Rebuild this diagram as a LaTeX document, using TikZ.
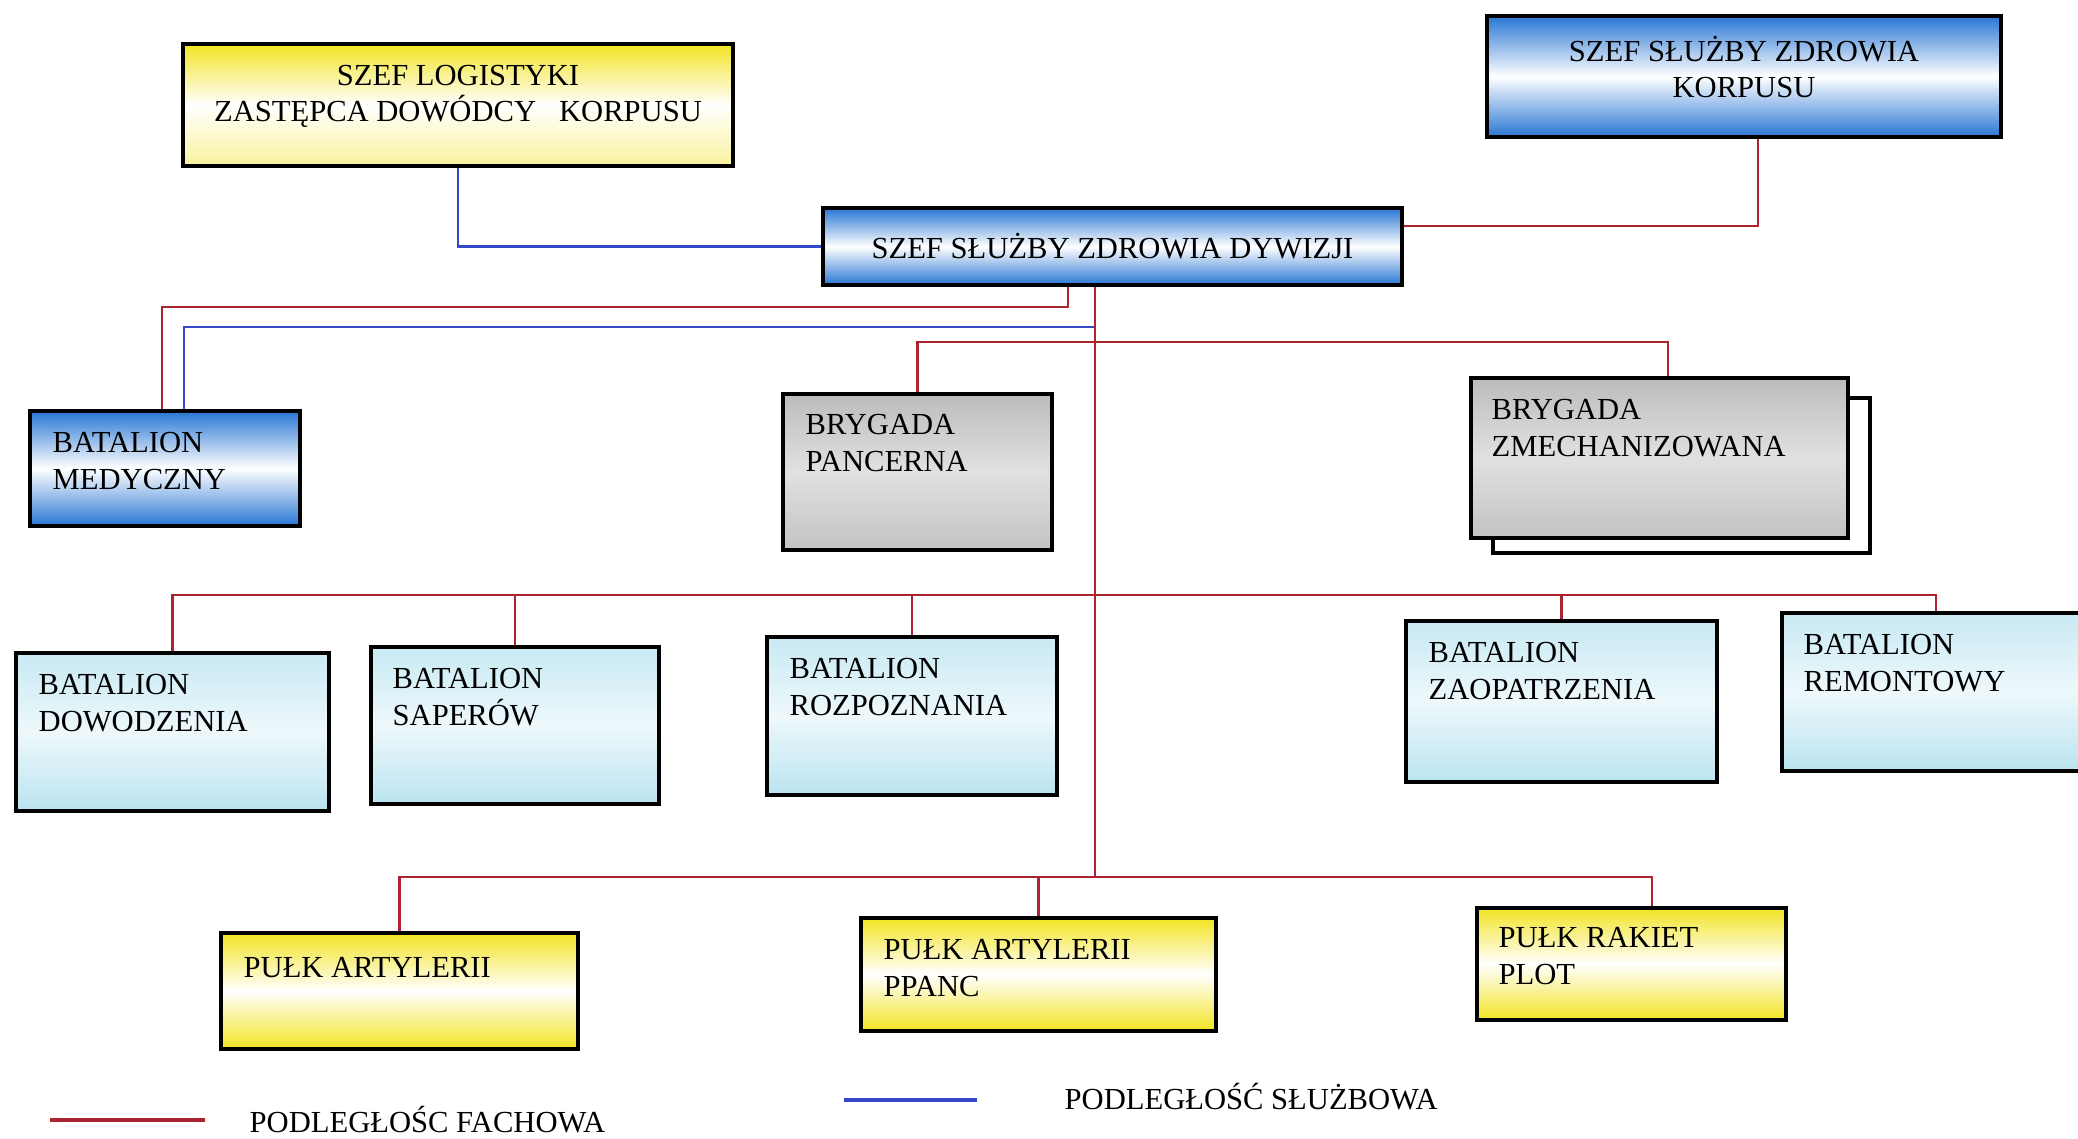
\documentclass[tikz,border=0pt]{standalone}
\usepackage{fontspec}
\setmainfont{Liberation Serif}
\usetikzlibrary{positioning}
\definecolor{myBlue}{RGB}{40,118,212}
\definecolor{myYellow}{RGB}{242,228,35}
\definecolor{myCyan}{RGB}{186,228,240}
\definecolor{myGrey}{RGB}{188,188,188}
\definecolor{lineRed}{RGB}{172,36,48}
\definecolor{lineBlue}{RGB}{52,72,200}
\newcommand{\orgfont}{\fontsize{8.7}{10.3}\selectfont}

\tikzset{
  box/.style={draw=black, line width=1.1pt, inner sep=0pt, font=\orgfont},
  bluebox/.style={box, top color=myBlue, bottom color=myBlue, middle color=white},
  yellowbox/.style={box, top color=myYellow, bottom color=myYellow, middle color=white},
  cyanbox/.style={box, top color=myCyan!80, bottom color=myCyan, middle color=myCyan!25},
  greybox/.style={box, top color=myGrey, bottom color=myGrey!90, middle color=myGrey!45},
  txt/.style={inner sep=0pt, align=left, anchor=north west, font=\orgfont},
  fach/.style={draw=lineRed, line width=0.75pt},
  sluz/.style={draw=lineBlue, line width=0.75pt}
}

\begin{document}
\begin{tikzpicture}[x=0.01cm, y=-0.01cm]
\clip (0,0) rectangle (2078,1139);
\fill[white] (0,0) rectangle (2078,1139);

% dowodztwo
\node[box, top color=myYellow, bottom color=myYellow!45, middle color=white,
      minimum width=5.5cm, minimum height=1.22cm] (log) at (458,105) {};
\node[align=center, inner sep=0pt, font=\orgfont] (logT) at (458,96)
      {SZEF LOGISTYKI\\ZASTĘPCA DOWÓDCY\ \ \ KORPUSU};
\node[bluebox, minimum width=5.14cm, minimum height=1.21cm] (korp) at (1744,76.5) {};
\node[align=center, inner sep=0pt, font=\orgfont] (korpT) at (1744,67)
      {SZEF SŁUŻBY ZDROWIA\\KORPUSU};
\node[bluebox, minimum width=5.79cm, minimum height=0.77cm] (dyw) at (1112.5,246.5)
      {SZEF SŁUŻBY ZDROWIA DYWIZJI};

% drugi rzad
\node[bluebox, minimum width=2.70cm, minimum height=1.15cm] (med) at (165,468.5) {};
\node[txt] (medT) at ([shift={(24,23)}]med.north west) {BATALION\\MEDYCZNY};
\node[greybox, minimum width=2.69cm, minimum height=1.56cm] (panc) at (917.5,472) {};
\node[txt] (pancT) at ([shift={(24,22)}]panc.north west) {BRYGADA\\PANCERNA};
\node[box, fill=white, minimum width=3.77cm, minimum height=1.55cm] (zmechB) at (1681.5,475.5) {};
\node[greybox, minimum width=3.77cm, minimum height=1.60cm] (zmech) at (1659.5,458) {};
\node[txt] (zmechT) at ([shift={(22,23)}]zmech.north west) {BRYGADA\\ZMECHANIZOWANA};

% bataliony
\node[cyanbox, minimum width=3.13cm, minimum height=1.58cm] (dow) at (172.5,732) {};
\node[txt] (dowT) at ([shift={(24,23)}]dow.north west) {BATALION\\DOWODZENIA};
\node[cyanbox, minimum width=2.88cm, minimum height=1.57cm] (sap) at (515,725.5) {};
\node[txt] (sapT) at ([shift={(23,23)}]sap.north west) {BATALION\\SAPERÓW};
\node[cyanbox, minimum width=2.90cm, minimum height=1.58cm] (roz) at (912,716) {};
\node[txt] (rozT) at ([shift={(24,23)}]roz.north west) {BATALION\\ROZPOZNANIA};
\node[cyanbox, minimum width=3.11cm, minimum height=1.61cm] (zaop) at (1561.5,701.5) {};
\node[txt] (zaopT) at ([shift={(24,23)}]zaop.north west) {BATALION\\ZAOPATRZENIA};
\node[cyanbox, minimum width=3.08cm, minimum height=1.58cm] (rem) at (1936,692) {};
\node[txt] (remT) at ([shift={(23,23)}]rem.north west) {BATALION\\REMONTOWY};

% pulki
\node[yellowbox, minimum width=3.57cm, minimum height=1.16cm] (art) at (399.5,991) {};
\node[txt] (artT) at ([shift={(24,26)}]art.north west) {PUŁK ARTYLERII};
\node[yellowbox, minimum width=3.55cm, minimum height=1.13cm] (ppanc) at (1038.5,974.5) {};
\node[txt] (ppancT) at ([shift={(24,23)}]ppanc.north west) {PUŁK ARTYLERII\\PPANC};
\node[yellowbox, minimum width=3.09cm, minimum height=1.12cm] (rak) at (1631.5,964) {};
\node[txt] (rakT) at ([shift={(23,21)}]rak.north west) {PUŁK RAKIET\\PLOT};

% polaczenia
\coordinate (tr) at (1095,0);
\coordinate (bus1) at (1095,342);
\coordinate (bus2) at (1095,595);
\coordinate (bus3) at (1095,877);
\coordinate (mr) at (1068,307);
\coordinate (mrl) at (162,307);
\coordinate (mb) at (184,327);
\coordinate (zx) at (1668,0);
\coordinate (rx) at (1652,0);
\coordinate (kx) at (1758,0);

\draw[sluz] (log.south) |- (dyw.west);
\draw[fach] (korp.south -| kx) |- (dyw.4);
\draw[fach] (dyw.south -| mr) -- (mr) -- (mrl) -- (mrl |- med.north);
\draw[sluz] (tr |- mb) -- (mb) -- (mb |- med.north);
\draw[fach] (tr |- dyw.south) -- (bus3);
\draw[fach] (panc.north) |- (bus1) -| (zmech.north -| zx);
\draw[fach] (dow.north) |- (bus2) -| (rem.north);
\foreach \n in {sap,roz,zaop}
  \draw[fach] (\n.north) -- (\n.north |- bus2);
\draw[fach] (art.north) |- (bus3) -| (rak.north -| rx);
\draw[fach] (ppanc.north) -- (ppanc.north |- bus3);

% legenda
\coordinate (lgF) at (50,1120);
\draw[fach, line width=1pt] (lgF) -- ++(155,0);
\node[txt, anchor=west] (legF) at (249,1120) {PODLEGŁOŚC FACHOWA};
\coordinate (lgS) at (844,1100);
\draw[sluz, line width=1pt] (lgS) -- ++(133,0);
\node[txt, anchor=west] (legS) at (1064,1097) {PODLEGŁOŚĆ SŁUŻBOWA};
\end{tikzpicture}
\end{document}
